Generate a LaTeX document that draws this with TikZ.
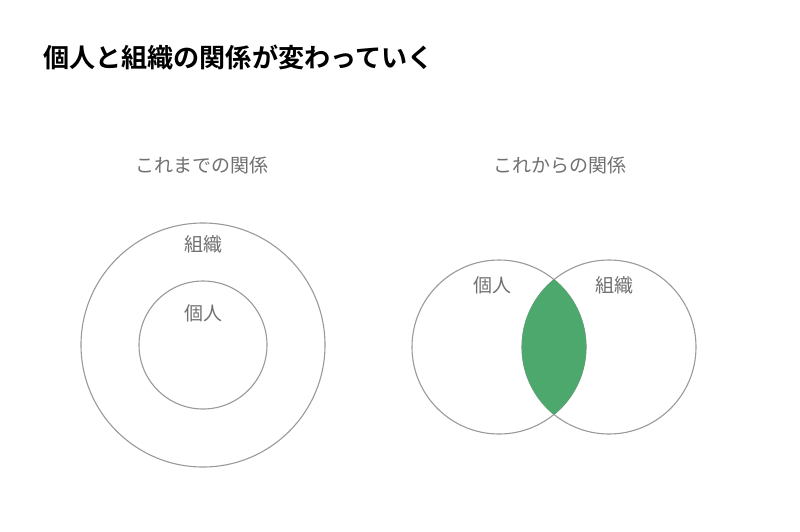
\documentclass[tikz,border=0pt]{standalone}
\usepackage{fontspec}
\newfontfamily\cjk{Noto Sans CJK JP}
\newfontfamily\cjkb{Noto Sans CJK JP Bold}
\definecolor{lineg}{HTML}{9A9A9A}
\definecolor{textg}{HTML}{707070}
\definecolor{leaf}{HTML}{4DA86E}
\begin{document}
\begin{tikzpicture}[x=1pt,y=-1pt,
  ring/.style={draw=lineg,line width=1.1pt},
  lbl/.style={font=\cjk\fontsize{19}{19}\selectfont,text=textg,inner sep=0pt},
  ttl/.style={font=\cjkb\fontsize{26.1}{26.1}\selectfont,text=black,inner sep=0pt,anchor=west}]
\useasboundingbox (0,0) rectangle (800,531);
\fill[white] (0,0) rectangle (800,531);
\node[ttl] (title) at (43,57) {個人と組織の関係が変わっていく};
\node[lbl] (old) at (202,165) {これまでの関係};
\node[lbl] (new) at (560,165) {これからの関係};
% left
\node[ring,circle,minimum size=244pt,inner sep=0pt] (org1) at (203,345) {};
\node[ring,circle,minimum size=128pt,inner sep=0pt] (ind1) at (203,345) {};
\node[lbl] (orgl1) at (203,244) {組織};
\node[lbl] (indl1) at (203,313) {個人};
% right
\node[ring,circle,minimum size=174pt,inner sep=0pt] (ind2) at (499,347) {};
\node[ring,circle,minimum size=174pt,inner sep=0pt] (org2) at (609,347) {};
\begin{scope}
\clip (499,347) circle[radius=87.3];
\fill[leaf] (609,347) circle[radius=87.3];
\end{scope}
\node[lbl] (indl2) at (492,285) {個人};
\node[lbl] (orgl2) at (614,285) {組織};
\end{tikzpicture}
\end{document}
